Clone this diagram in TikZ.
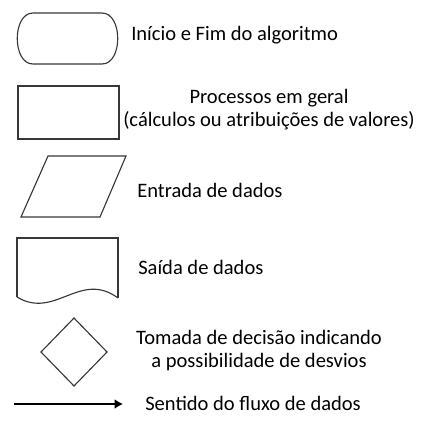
\documentclass[tikz,border=0pt]{standalone}
\usepackage{fontspec}
\setmainfont{Carlito}
\usetikzlibrary{arrows.meta}
\definecolor{contorno}{RGB}{55,55,55}
\tikzset{
	simbolo/.style={thick, draw=contorno},
	legenda/.style={anchor=west, font=\fontsize{14.6}{16.4}\selectfont, inner sep=0pt}
}

\begin{document}
\begin{tikzpicture}[x=0.025cm, y=-0.025cm]
		\useasboundingbox (0, 0) rectangle (424, 424);
		% inicio e fim
		\draw [simbolo] (33, 13) -- (102, 13) .. controls (123, 13) and (123, 64) .. (102, 64) -- (33, 64) .. controls (12, 64) and (12, 13) .. (33, 13) -- cycle;
		\node [legenda] (inicio) at (131, 35) {Início e Fim do algoritmo};
		% processo
		\draw [simbolo] (18, 86) rectangle (119, 139);
		\node [legenda, anchor=center, align=center] (processo) at (269, 109.5) {Processos em geral\\(cálculos ou atribuições de valores)};
		% entrada
		\draw [simbolo] (21, 217) -- (48, 156) -- (126, 156) -- (100, 217) -- cycle;
		\node [legenda] (entrada) at (137, 190) {Entrada de dados};
		% saida
		\draw [simbolo] (17, 297) -- (17, 238) -- (118, 238) -- (118, 298);
		\draw [simbolo] (17, 297) .. controls (55, 320) and (80, 270) .. (118, 298);
		\node [legenda] (saida) at (138, 267) {Saída de dados};
		% decisao
		\draw [simbolo] (74, 318) -- (107, 352) -- (74, 386) -- (41, 352) -- cycle;
		\node [legenda, anchor=center, align=center] (decisao) at (259, 350.5) {Tomada de decisão indicando\\a possibilidade de desvios};
		% fluxo
		\coordinate (setaIni) at (14, 404);
		\coordinate (setaFim) at (123, 404);
		\draw [line width=1pt, -{Latex[length=6pt, width=7pt]}] (setaIni) -- (setaFim);
		\node [legenda] (sentido) at (145, 403) {Sentido do fluxo de dados};
	\end{tikzpicture}
\end{document}
